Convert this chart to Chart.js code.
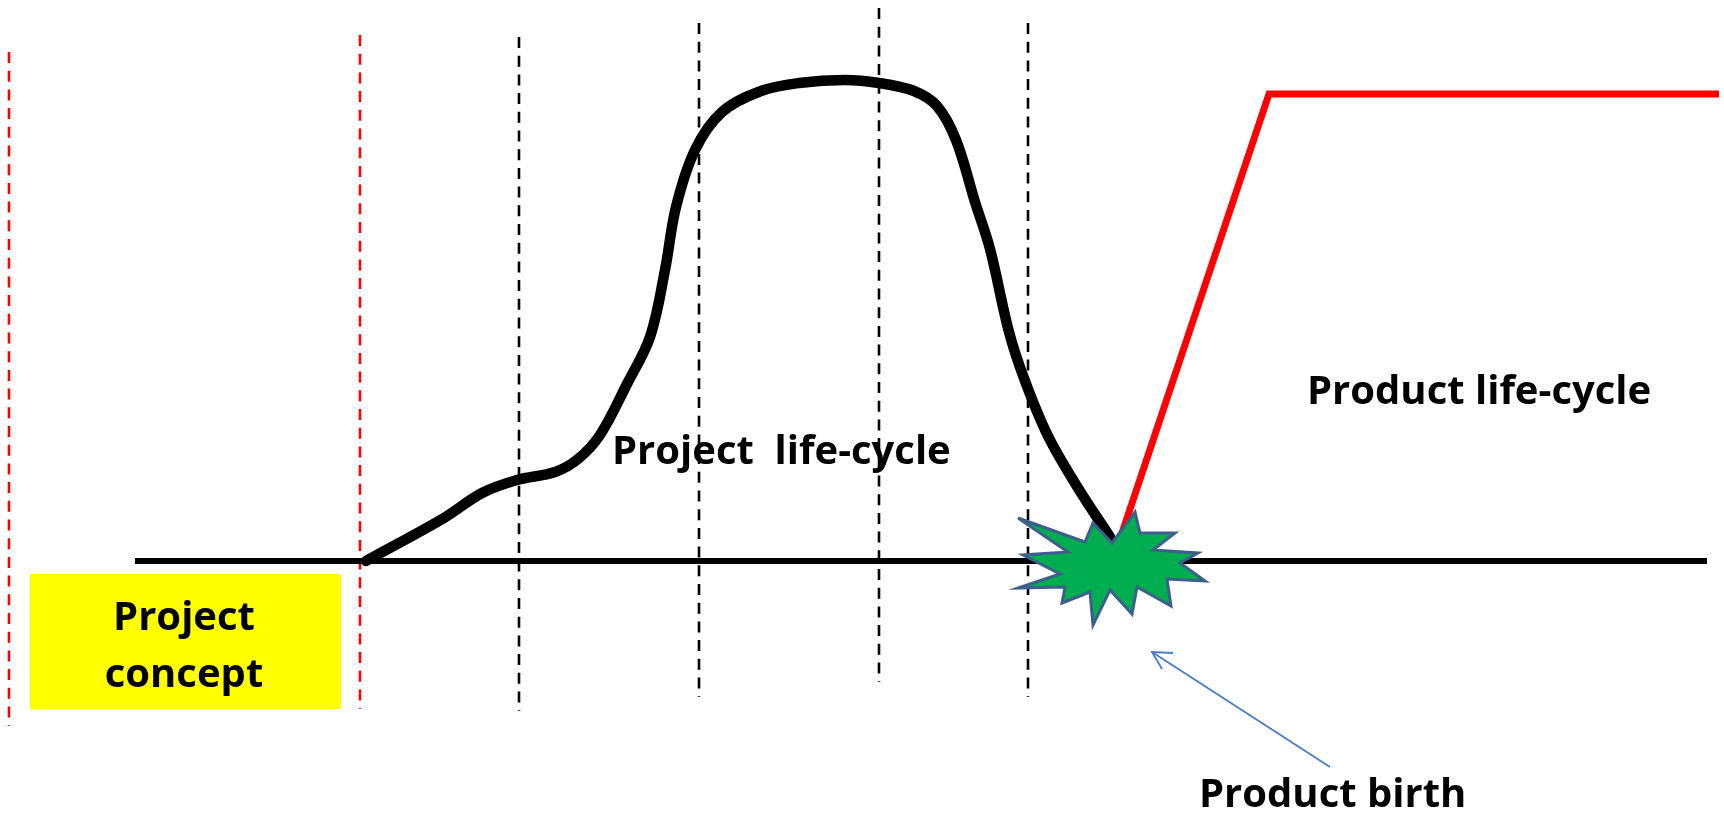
<!DOCTYPE html>
<html>
<head>
<meta charset="utf-8">
<script src="https://cdn.jsdelivr.net/npm/chart.js@4/dist/chart.umd.min.js"></script>
<style>
  html, body { margin: 0; padding: 0; background: #fff; }
  #wrap { width: 1724px; height: 813px; position: relative; }
</style>
</head>
<body>
<div id="wrap"><canvas id="lifeCycleChart"></canvas></div>
<script>
// Diagram units: x runs left to right, y = height above the time axis
const projectX = [366, 444, 482, 517, 555, 578, 600, 627, 650, 665, 676, 695, 722, 761, 799, 845, 879, 914, 937, 956, 975, 990, 1009, 1025, 1048, 1078, 1110];
const projectY = [0, 43, 68, 81, 89, 102, 126, 177, 224, 291, 354, 411, 449, 470, 478, 481, 478, 470, 455, 421, 359, 312, 229, 180, 125, 73, 24];

const productX = [1118, 1269, 1719];
const productY = [16, 467, 467];

const axisX = [135, 1707];
const axisY = [0, 0];

// phase boundaries (first two are red)
const guideX = [9, 360, 519, 699, 879, 1028];
const guideTop = [509, 526, 524, 538, 553, 538];
const guideBottom = [-165, -148, -150, -136, -121, -136];

// "product birth" burst outline
const burstX = [1018, 1085, 1093, 1112, 1135, 1140, 1175, 1153, 1198, 1180, 1205, 1167, 1171, 1137, 1132, 1110, 1093, 1090, 1062, 1065, 1018, 1060, 1023, 1068];
const burstY = [43, 19, 38, 18, 49, 28, 28, 11, 8, -2, -20, -18, -45, -26, -53, -29, -64, -31, -42, -26, -27, -13, 6, 9];

const arrowX = [1330, 1152];
const arrowY = [-206, -91];
const arrowHeadX = [1173, 1152, 1162];
const arrowHeadY = [-92, -91, -108];

const labels = ['Project  life-cycle', 'Product life-cycle', 'Product birth'];
const conceptLines = ['Project', 'concept'];

const toPoints = (xs, ys) => xs.map((x, i) => ({ x, y: ys[i] }));

const datasets = [];

guideX.forEach((x, i) => {
  datasets.push({
    data: [{ x, y: guideTop[i] }, { x, y: guideBottom[i] }],
    borderColor: i < 2 ? '#ff0000' : '#000000',
    borderWidth: 2.6,
    borderDash: [11, 7.7],
    order: 10
  });
});

datasets.push({ data: toPoints(axisX, axisY), borderColor: '#000', borderWidth: 6, order: 8 });

datasets.push({
  data: toPoints(projectX, projectY),
  borderColor: '#000',
  borderWidth: 10.5,
  tension: 0.35,
  borderCapStyle: 'round',
  borderJoinStyle: 'round',
  order: 6
});

datasets.push({ data: toPoints(productX, productY), borderColor: '#ff0000', borderWidth: 7, order: 5 });

const burst = toPoints(burstX, burstY);
burst.push(burst[0]);
datasets.push({
  data: burst,
  borderColor: '#3c5f8c',
  backgroundColor: '#00ad4f',
  borderWidth: 3,
  borderJoinStyle: 'miter',
  fill: 'shape',
  order: 1
});

datasets.push({ data: toPoints(arrowX, arrowY), borderColor: '#4a7cc4', borderWidth: 1.8, order: 2 });
datasets.push({ data: toPoints(arrowHeadX, arrowHeadY), borderColor: '#4a7cc4', borderWidth: 1.8, order: 2 });

// yellow concept box and the text labels
const annotations = {
  id: 'annotations',
  beforeDatasetsDraw(chart) {
    const { ctx, scales: { x, y } } = chart;
    ctx.save();
    ctx.fillStyle = '#ffff00';
    const left = x.getPixelForValue(30), right = x.getPixelForValue(341);
    const top = y.getPixelForValue(-13), bottom = y.getPixelForValue(-148);
    ctx.fillRect(left, top, right - left, bottom - top);
    ctx.restore();
  },
  afterDatasetsDraw(chart) {
    const { ctx, scales: { x, y } } = chart;
    ctx.save();
    ctx.fillStyle = '#000';
    ctx.font = 'bold 40px "Open Sans", sans-serif';
    ctx.textBaseline = 'alphabetic';
    ctx.textAlign = 'left';
    ctx.fillText(labels[0], x.getPixelForValue(612), y.getPixelForValue(97));
    ctx.fillText(labels[1], x.getPixelForValue(1307), y.getPixelForValue(157));
    ctx.fillText(labels[2], x.getPixelForValue(1199), y.getPixelForValue(-246));
    ctx.textAlign = 'center';
    ctx.fillText(conceptLines[0], x.getPixelForValue(184), y.getPixelForValue(-69));
    ctx.fillText(conceptLines[1], x.getPixelForValue(184), y.getPixelForValue(-126));
    ctx.restore();
  }
};

new Chart(document.getElementById('lifeCycleChart'), {
  type: 'scatter',
  data: { datasets },
  options: {
    responsive: true,
    maintainAspectRatio: false,
    animation: false,
    showLine: true,
    elements: { point: { radius: 0, hoverRadius: 0 }, line: { fill: false } },
    layout: { padding: 0 },
    scales: {
      x: { type: 'linear', min: 0, max: 1724, display: false },
      y: { type: 'linear', min: -252, max: 561, display: false }
    },
    plugins: { legend: { display: false }, tooltip: { enabled: false } }
  },
  plugins: [annotations]
});
</script>
</body>
</html>
